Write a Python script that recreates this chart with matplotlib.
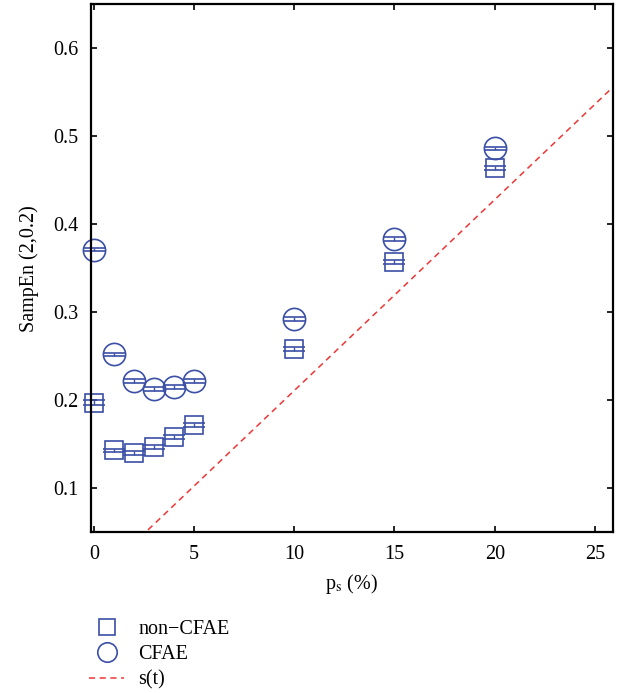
import matplotlib
matplotlib.use('Agg')
import matplotlib.pyplot as plt

# percent of shuffled samples
ps = [0, 1, 2, 3, 4, 5, 10, 15, 20]

# SampEn(2,0.2) means
non_cfae = [0.197, 0.143, 0.140, 0.147, 0.158, 0.172, 0.258, 0.357, 0.464]
non_cfae_err = [0.003, 0.002, 0.002, 0.002, 0.002, 0.002, 0.002, 0.002, 0.002]
cfae = [0.371, 0.252, 0.222, 0.213, 0.215, 0.222, 0.292, 0.383, 0.486]
cfae_err = [0.002, 0.002, 0.002, 0.002, 0.002, 0.002, 0.002, 0.002, 0.002]

# s(t) reference line end points
st_x = [0, 26]
st_y = [-0.006, 0.558]

blue = '#3b4fa6'

plt.rcParams['font.family'] = ['Liberation Serif', 'DejaVu Serif']
plt.rcParams['mathtext.fontset'] = 'stix'

fig = plt.figure(figsize=(6.22, 6.93), dpi=100)
ax = fig.add_axes([0.146, 0.232, 0.8395, 0.762])

sq = ax.errorbar(ps, non_cfae, yerr=non_cfae_err, fmt='s', mfc='none', mec=blue,
                 ecolor=blue, ms=13, mew=1.2, elinewidth=1, capsize=8,
                 capthick=1.2, clip_on=False, label='non\u2212CFAE')
ci = ax.errorbar(ps, cfae, yerr=cfae_err, fmt='o', mfc='none', mec=blue,
                 ecolor=blue, ms=16, mew=1.2, elinewidth=1, capsize=8,
                 capthick=1.2, clip_on=False, label='CFAE')
ln, = ax.plot(st_x, st_y, '--', color='#f03535', lw=1.1, dashes=(4, 3),
              label='s(t)')

ax.set_xlim(-0.15, 25.9)
ax.set_ylim(0.05, 0.65)
ax.set_xticks([0, 5, 10, 15, 20, 25])
ax.set_yticks([0.1, 0.2, 0.3, 0.4, 0.5, 0.6])
ax.tick_params(direction='in', top=True, right=True, labelsize=14.5,
               length=4, width=1.2, pad=9)
for s in ax.spines.values():
    s.set_linewidth(1.6)

ax.set_xlabel(r'p$_{\rm s}$ (%)', fontsize=14.5, labelpad=6)
ax.set_ylabel('SampEn (2,0.2)', fontsize=14.5, labelpad=10)

leg_sq = plt.Line2D([], [], ls='none', marker='s', mfc='none', mec=blue,
                    ms=12, mew=1.2)
leg_ci = plt.Line2D([], [], ls='none', marker='o', mfc='none', mec=blue,
                    ms=14, mew=1.2)
fig.legend([leg_sq, leg_ci, ln], ['non\u2212CFAE', 'CFAE', 's(t)'],
           loc='upper left', bbox_to_anchor=(0.143, 0.105), frameon=False,
           fontsize=14.5, handlelength=1.75, labelspacing=0.3,
           handletextpad=0.7, borderpad=0, borderaxespad=0)

fig.savefig('out.png', dpi=100)
